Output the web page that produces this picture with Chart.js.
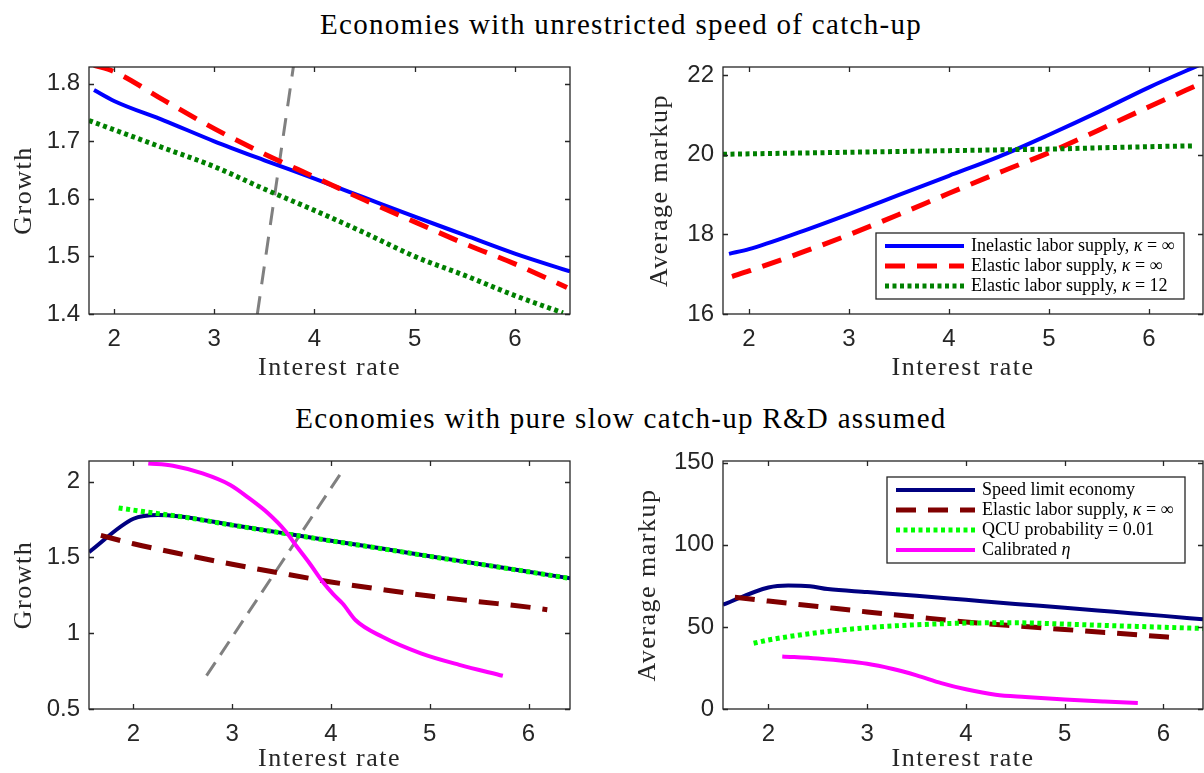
<!DOCTYPE html>
<html>
<head>
<meta charset="utf-8">
<script src="https://cdn.jsdelivr.net/npm/chart.js@4.4.0/dist/chart.umd.min.js"></script>
<style>
body { margin: 0; background: #fff; width: 1204px; height: 773px; overflow: hidden; position: relative; }
.sup { position: absolute; left: 19px; width: 1204px; text-align: center; font-family: "Liberation Serif", serif; font-size: 29px; line-height: 34px; letter-spacing: 1.3px; color: #000; }
canvas { position: absolute; }
</style>
</head>
<body>
<div class="sup" style="top:7px">Economies with unrestricted speed of catch-up</div>
<div class="sup" style="top:401px">Economies with pure slow catch-up R&amp;D assumed</div>
<canvas id="growth-top" width="600" height="350" style="left:0;top:40px"></canvas>
<canvas id="markup-top" width="602" height="350" style="left:602px;top:40px"></canvas>
<canvas id="growth-bottom" width="600" height="338" style="left:0;top:435px"></canvas>
<canvas id="markup-bottom" width="602" height="338" style="left:602px;top:435px"></canvas>
<script>
// tick values
var rateTicks = [2, 3, 4, 5, 6];
var growthTopTicks = [1.4, 1.5, 1.6, 1.7, 1.8];
var markupTopTicks = [16, 18, 20, 22];
var growthBottomTicks = [0.5, 1, 1.5, 2];
var markupBottomTicks = [0, 50, 100, 150];

// top row: unrestricted speed of catch-up
var rInelastic = [1.8, 2, 2.5, 3, 3.5, 4, 4.5, 5, 5.5, 6, 6.55];
var gInelastic = [1.789, 1.770, 1.736, 1.700, 1.667, 1.635, 1.602, 1.569, 1.537, 1.505, 1.474];
var rElastic = [1.8, 2, 2.5, 3, 3.5, 4, 4.5, 5, 5.5, 6, 6.52];
var gElastic = [1.832, 1.821, 1.771, 1.722, 1.678, 1.638, 1.598, 1.560, 1.522, 1.487, 1.446];
var rKappa12 = [1.75, 2, 2.5, 3, 3.5, 4, 4.5, 5, 5.5, 6, 6.48];
var gKappa12 = [1.736, 1.720, 1.688, 1.656, 1.617, 1.580, 1.541, 1.500, 1.467, 1.432, 1.402];
var rSupplyTop = [3.43, 3.79];
var gSupplyTop = [1.40, 1.83];

var rMkInelastic = [1.8, 2, 2.5, 3, 3.5, 4, 4.5, 5, 5.5, 6, 6.55];
var mkInelastic = [17.51, 17.63, 18.05, 18.51, 18.99, 19.47, 19.95, 20.5, 21.08, 21.69, 22.3];
var rMkElastic = [1.83, 2, 2.5, 3, 3.5, 4, 4.5, 5, 5.5, 6, 6.55];
var mkElastic = [16.94, 17.08, 17.52, 17.99, 18.5, 19.03, 19.55, 20.05, 20.62, 21.2, 21.82];
var rMkKappa12 = [1.74, 2.5, 3, 3.5, 4, 4.5, 5, 5.5, 6, 6.46];
var mkKappa12 = [20.01, 20.04, 20.06, 20.08, 20.1, 20.12, 20.14, 20.17, 20.2, 20.22];

// bottom row: pure slow catch-up R&D
var rSpeed = [1.55, 2, 2.25, 2.45, 3, 3.5, 4, 4.5, 5, 5.5, 6, 6.42];
var gSpeed = [1.535, 1.755, 1.78, 1.772, 1.714, 1.662, 1.61, 1.56, 1.508, 1.457, 1.406, 1.362];
var rSlowElastic = [1.67, 2, 2.5, 3, 3.5, 4, 4.5, 5, 5.5, 6, 6.19];
var gSlowElastic = [1.645, 1.59, 1.52, 1.455, 1.395, 1.338, 1.29, 1.245, 1.208, 1.172, 1.155];
var rQcu = [1.85, 2.28, 2.45, 3, 3.5, 4, 4.5, 5, 5.5, 6, 6.42];
var gQcu = [1.826, 1.786, 1.772, 1.713, 1.661, 1.609, 1.559, 1.507, 1.456, 1.405, 1.361];
var rEta = [2.15, 2.4, 2.7, 2.98, 3.17, 3.36, 3.54, 3.65, 3.79, 3.92, 4.02, 4.12, 4.25, 4.52, 4.91, 5.3, 5.74];
var gEta = [2.12, 2.105, 2.054, 1.978, 1.891, 1.793, 1.673, 1.575, 1.455, 1.336, 1.259, 1.194, 1.085, 0.976, 0.867, 0.791, 0.719];
var rSupplyBottom = [2.74, 4.11];
var gSupplyBottom = [0.72, 2.065];

var rMkSpeed = [1.54, 2, 2.2, 2.42, 2.6, 3, 3.5, 4, 4.5, 5, 5.5, 6, 6.4];
var mkSpeed = [63.5, 74, 75.2, 74.8, 73, 71.2, 69, 66.5, 64, 61.7, 59.2, 56.7, 54.6];
var rMkSlowElastic = [1.66, 2, 2.5, 3, 3.5, 4, 4.5, 5, 5.5, 6, 6.06];
var mkSlowElastic = [68, 65.7, 62.4, 59.1, 56, 53, 50.6, 48.4, 46.2, 44, 43.7];
var rMkQcu = [1.85, 2, 2.5, 3, 3.5, 4, 4.5, 5, 5.5, 6, 6.4];
var mkQcu = [40, 42, 46.5, 49.5, 51.3, 52.3, 52.5, 51.7, 50.7, 49.8, 49];
var rMkEta = [2.14, 2.5, 3, 3.25, 3.5, 3.75, 4, 4.3, 4.6, 5, 5.4, 5.74];
var mkEta = [32, 30.7, 27.5, 24.5, 20.5, 15.8, 12, 8.7, 7.3, 5.8, 4.6, 3.7];

var AXIS = '#262626';
var SERIF = '"Liberation Serif", "Times New Roman", serif';
var SANS = '"Liberation Sans", Arial, sans-serif';

function pts(xs, ys) {
	var out = [];
	for (var i = 0; i < xs.length; i++) out.push({x: xs[i], y: ys[i]});
	return out;
}

function series(label, xs, ys, color, width, dash, order) {
	return {
		label: label,
		data: pts(xs, ys),
		borderColor: color,
		backgroundColor: color,
		borderWidth: width,
		borderDash: dash,
		borderCapStyle: 'butt',
		pointRadius: 0,
		fill: false,
		cubicInterpolationMode: 'monotone',
		clip: 0,
		order: order
	};
}

var DASH = [20, 12], DOT = [4, 3.5];

// box around the axes with ticks pointing inwards on all four sides
var axesBox = {
	id: 'axesBox',
	beforeDraw: function(chart) {
		// wider spacing for the serif axis titles
		Object.keys(chart.scales).forEach(function(k) {
			var s = chart.scales[k];
			if (s._spaced) return;
			var orig = s.drawTitle;
			s.drawTitle = function() {
				this.ctx.save();
				this.ctx.letterSpacing = '1.5px';
				orig.call(this);
				this.ctx.restore();
			};
			s._spaced = true;
		});
	},
	afterDatasetsDraw: function(chart) {
		var ctx = chart.ctx, a = chart.chartArea, len = 5;
		var sx = chart.scales.x, sy = chart.scales.y;
		ctx.save();
		ctx.strokeStyle = AXIS;
		ctx.lineWidth = 1.3;
		ctx.beginPath();
		sx.ticks.forEach(function(t) {
			var p = Math.round(sx.getPixelForValue(t.value)) + 0.5;
			ctx.moveTo(p, a.bottom); ctx.lineTo(p, a.bottom - len);
			ctx.moveTo(p, a.top); ctx.lineTo(p, a.top + len);
		});
		sy.ticks.forEach(function(t) {
			var p = Math.round(sy.getPixelForValue(t.value)) + 0.5;
			ctx.moveTo(a.left, p); ctx.lineTo(a.left + len, p);
			ctx.moveTo(a.right, p); ctx.lineTo(a.right - len, p);
		});
		ctx.stroke();
		ctx.strokeRect(a.left, a.top, a.right - a.left, a.bottom - a.top);
		ctx.restore();
	}
};

// legend box placed inside the axes; greek letters set in italics
var boxLegend = {
	id: 'boxLegend',
	afterDraw: function(chart, args, opts) {
		if (!opts || !opts.show) return;
		var ctx = chart.ctx, a = chart.chartArea;
		var items = chart.data.datasets.filter(function(d) { return d.label; });
		var x0 = a.left + opts.x, y0 = a.top + opts.y;
		var h = items.length * 20 + 6;
		ctx.save();
		ctx.fillStyle = '#fff';
		ctx.fillRect(x0, y0, opts.w, h);
		ctx.strokeStyle = AXIS;
		ctx.lineWidth = 1.3;
		ctx.strokeRect(x0, y0, opts.w, h);
		items.forEach(function(d, i) {
			var cy = y0 + 13 + i * 20;
			ctx.beginPath();
			ctx.strokeStyle = d.borderColor;
			ctx.lineWidth = d.borderWidth;
			ctx.setLineDash(d.borderDash || []);
			ctx.moveTo(x0 + 9, cy);
			ctx.lineTo(x0 + 88, cy);
			ctx.stroke();
			ctx.setLineDash([]);
			ctx.fillStyle = '#000';
			ctx.textBaseline = 'middle';
			var tx = x0 + 95;
			d.label.split(/([κη])/).forEach(function(part) {
				if (!part) return;
				ctx.font = (/[κη]/.test(part) ? 'italic ' : '') + '18px ' + SERIF;
				ctx.fillText(part, tx, cy);
				tx += ctx.measureText(part).width;
			});
		});
		ctx.restore();
	}
};

function makeChart(id, datasets, o) {
	var ctx = document.getElementById(id).getContext('2d');
	return new Chart(ctx, {
		type: 'line',
		data: {datasets: datasets},
		options: {
			responsive: false,
			animation: false,
			devicePixelRatio: 1,
			layout: {padding: {top: o.padTop, right: o.padRight, left: 0, bottom: 0}},
			plugins: {
				legend: {display: false},
				tooltip: {enabled: false},
				boxLegend: o.legend || {show: false}
			},
			scales: {
				x: {
					type: 'linear',
					min: o.xMin,
					max: o.xMax,
					afterFit: function(s) { s.height = o.xHeight; },
					afterBuildTicks: function(s) { s.ticks = rateTicks.map(function(v) { return {value: v}; }); },
					grid: {display: false, drawTicks: false},
					border: {display: false},
					ticks: {
						color: AXIS,
						padding: 11,
						maxRotation: 0,
						font: {family: SANS, size: 24},
						callback: function(v) { return String(v); }
					},
					title: {
						display: true,
						text: 'Interest rate',
						color: AXIS,
						font: {family: SERIF, size: 26},
						padding: {top: 0, bottom: o.xTitlePad}
					}
				},
				y: {
					type: 'linear',
					min: o.yMin,
					max: o.yMax,
					afterFit: function(s) { s.width = o.yWidth; },
					afterBuildTicks: function(s) { s.ticks = o.yTicks.map(function(v) { return {value: v}; }); },
					grid: {display: false, drawTicks: false},
					border: {display: false},
					ticks: {
						color: AXIS,
						padding: 9,
						font: {family: SANS, size: 24},
						callback: function(v) { return String(v); }
					},
					title: {
						display: true,
						text: o.yTitle,
						color: AXIS,
						font: {family: SERIF, size: 26},
						padding: {top: o.yTitlePad, bottom: 0}
					}
				}
			}
		},
		plugins: [axesBox, boxLegend]
	});
}

makeChart('growth-top', [
	series('Inelastic labor supply, κ = ∞', rInelastic, gInelastic, '#0000ff', 4, [], 2),
	series('Elastic labor supply, κ = ∞', rElastic, gElastic, '#ff0000', 5, DASH, 1),
	series('Elastic labor supply, κ = 12', rKappa12, gKappa12, '#008000', 5, DOT, 0),
	series('', rSupplyTop, gSupplyTop, '#808080', 3, [18, 12], 3)
], {
	padTop: 27, padRight: 30, xHeight: 76, yWidth: 89,
	xMin: 1.75, xMax: 6.55, yMin: 1.4, yMax: 1.829, yTicks: growthTopTicks,
	yTitle: 'Growth', yTitlePad: 9, xTitlePad: 6
});

makeChart('markup-top', [
	series('Inelastic labor supply, κ = ∞', rMkInelastic, mkInelastic, '#0000ff', 4, [], 2),
	series('Elastic labor supply, κ = ∞', rMkElastic, mkElastic, '#ff0000', 5, DASH, 1),
	series('Elastic labor supply, κ = 12', rMkKappa12, mkKappa12, '#008000', 5, DOT, 0)
], {
	padTop: 27, padRight: 1, xHeight: 76, yWidth: 121,
	xMin: 1.74, xMax: 6.54, yMin: 16, yMax: 22.2, yTicks: markupTopTicks,
	yTitle: 'Average markup', yTitlePad: 43, xTitlePad: 6,
	legend: {show: true, x: 153, y: 166, w: 308}
});

makeChart('growth-bottom', [
	series('Speed limit economy', rSpeed, gSpeed, '#000080', 4, [], 3),
	series('Elastic labor supply, κ = ∞', rSlowElastic, gSlowElastic, '#800000', 5, DASH, 2),
	series('QCU probability = 0.01', rQcu, gQcu, '#00ff00', 5, DOT, 1),
	series('Calibrated η', rEta, gEta, '#ff00ff', 4, [], 0),
	series('', rSupplyBottom, gSupplyBottom, '#808080', 3, [16, 9], 4)
], {
	padTop: 26, padRight: 30, xHeight: 64, yWidth: 89,
	xMin: 1.55, xMax: 6.42, yMin: 0.5, yMax: 2.136, yTicks: growthBottomTicks,
	yTitle: 'Growth', yTitlePad: 9, xTitlePad: -2
});

makeChart('markup-bottom', [
	series('Speed limit economy', rMkSpeed, mkSpeed, '#000080', 4, [], 3),
	series('Elastic labor supply, κ = ∞', rMkSlowElastic, mkSlowElastic, '#800000', 5, DASH, 2),
	series('QCU probability = 0.01', rMkQcu, mkQcu, '#00ff00', 5, DOT, 1),
	series('Calibrated η', rMkEta, mkEta, '#ff00ff', 4, [], 0)
], {
	padTop: 26, padRight: 1, xHeight: 64, yWidth: 121,
	xMin: 1.54, xMax: 6.4, yMin: 0, yMax: 151, yTicks: markupBottomTicks,
	yTitle: 'Average markup', yTitlePad: 31, xTitlePad: -2,
	legend: {show: true, x: 164, y: 16, w: 298}
});
</script>
</body>
</html>
